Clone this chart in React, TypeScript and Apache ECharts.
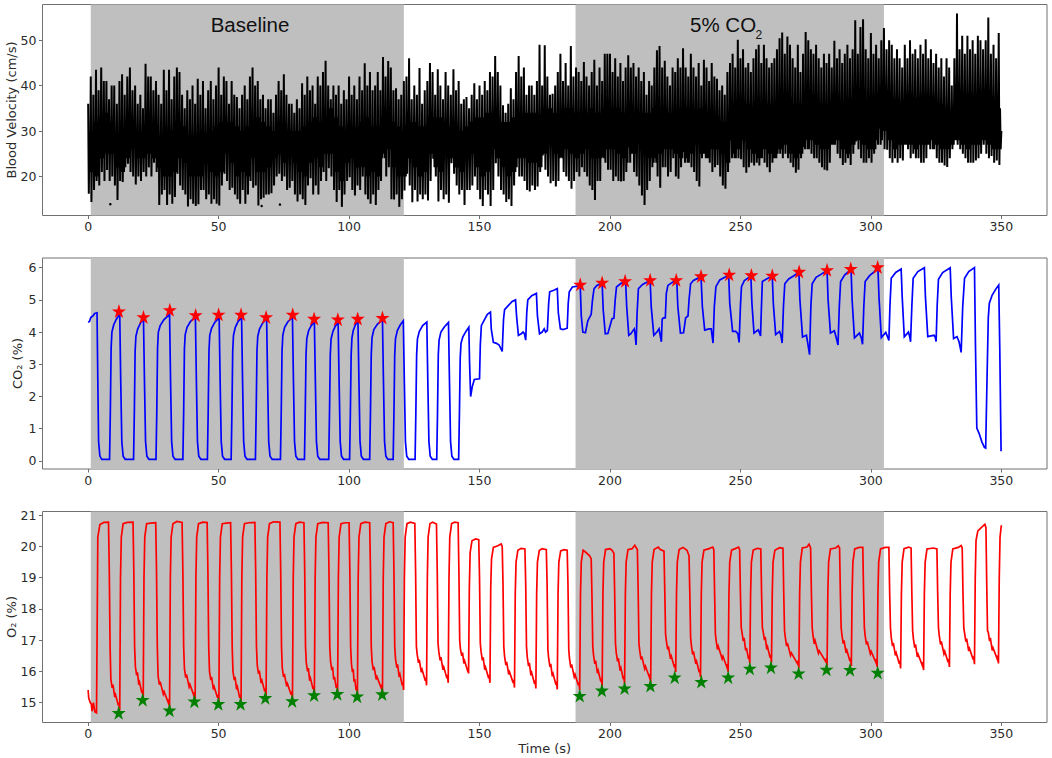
import React, { useEffect, useRef } from "react";
import * as echarts from "echarts";

const xTicks = [0, 50, 100, 150, 200, 250, 300, 350];
const velocityTicks = [20, 30, 40, 50];
const co2Ticks = [0, 1, 2, 3, 4, 5, 6];
const o2Ticks = [15, 16, 17, 18, 19, 20, 21];
const shadedBands = [[1, 121], [186.8, 305]];

// one systolic peak per second of recording
const velocityPeaks = [
  36,42,38,43.5,39,44,41,41,37,40,
  40,36,41,42.5,38,42,44,39,40,36,
  38,35,44.8,42,42,39,41,38,36,43.5,
  39,43.5,37,42,44,43,38,35,39,37,
  40,36,41.5,38,41,35,39,41,37,40,
  44,38,42,41,36,41,38,37.5,35,38,
  40,37,42,44,40,41,37,38,35,37,
  37,34,38,41,39,42.5,38,36,36,34,
  37,35,40.5,38,42,39,40,36,42,40,
  43,45.5,40,37,40,38,40,36,39,37,
  42,38,40,37,42,39,44.9,40,43,39,
  40,43,39,46.3,42,45.4,44,39,39.4,37,
  38,41,42,46,37,40,38,43.9,36,39,
  41,45,43,38,43.6,40,37,43,40,38,
  43.6,39,41,36,37,37.5,35,38,40.5,37,
  40,38,41,39,43,42,46.5,43,40,35.7,
  34,36,39.4,37,43,46.5,42,44,38,40,
  40,38,41,49,40,48.9,42,38,38.2,40,
  43,47,41,45,40,48.7,42,44,43,41,
  45.2,42,40,43,45.7,40,44,41,47,47,
  47,43,46,42,45,41,44,46.7,44,45,
  42,44,41,43,38,41,40,44,47.8,48.7,
  44,45.5,42,40,44,43,46,44,48.2,44,
  42,47,44,42,45,40,45.7,44,41,45,
  42,41.5,39,40,38,43,45,47,44,50.1,
  46,48,44,45,43,46,48,49,45,49,
  46,44,45,46,48,50.4,51.7,47,50.8,49,
  46,44,49,43,47,51.8,50,48,47,49,
  46,44,47,45,47,44,49.9,46,48,45,
  47,49,46,48,54.4,47,52.9,54.6,48,46,
  51.6,47,49,46,50,52.7,48,50,49,46,
  48,46,44,49,46,50,47,48,46,49,
  47,50.2,46,48,45,47,44,46,42,46,
  44,40,46,55.9,48,51,47,51,48,50,
  47,51,50,48,50,55,47,49,46,51.6,
];
const velocityTroughs = [
  16.2,14.4,17,19,18,21,19,21.4,19,20,
  18,14.8,19,18.8,22,22.8,21,20,18.2,20,
  19,21,20,22,20,23,21,13.7,16,17,
  13.7,16,14,15.5,20.6,18,17,16,13.4,15,
  14,13.5,13.9,17,17,15,16,14,15,14,
  13.6,18,20.6,19,17,17.5,16,15,14,17,
  14,16,19,17.5,18,13.6,15,15.3,16,16,
  16.3,18,20,20.6,19,20,17,17.5,19,16,
  14.5,16,15,13.7,18,19.6,16,18,16,19,
  21,19,21.8,20,17,14.4,17,13.3,16,19,
  19.8,17,15.8,18,17,20,16,15,14,16,
  13.7,17,19,25,20,22,15,14.9,16,13.3,
  15,16.9,20.6,18,14.3,17,14.5,16,15,16,
  14.7,19,23.9,20,14.5,17,15,16,14.2,22.9,
  20.6,18,16,17,13.7,17,17,18,20,17,
  15,13.5,17,16,13.5,17,22.9,20,17,16,
  14.4,15,13.5,18,22,20,20,19,17,16.7,
  18,17,17.8,21,24.6,21.5,20,18.5,19,17.8,
  19,24.2,21,20,19,17.3,19,21,20,22,
  21,20,18,17,14.8,19,19,24.3,23,21.5,
  21.5,19,20,19,18.9,19,21,26.4,25,21,
  20,18,15.8,13.7,17,19,22,24,20,17.5,
  22,22,20,21,24,20,19.5,22,25.4,24,
  23,22,21,19,17.8,24,25,24,23,21,
  22,22.5,20,18,17.3,21,28,25,24,24,
  23.8,22,20.8,22,23,22.4,23,22.4,24,23,
  22,20.9,23,24,25,25,24,25,24,23,
  22,20.8,21.5,24,26.5,28,26,25,24,24,
  23,22,21.5,21.3,23,27,27,25,24,22.5,
  23,24,22.5,25,27.7,26,24,23,23,24,
  23,25,28,30.5,28,26,25.9,24,23,24,
  23,24,23.5,27,26,24,25,24,24,23,
  23,24,27,28,26,24,23,23,22.4,22.1,
  24,26,28,27,26,25,24,23,23,23,
  23.5,24,25,27,25,24,24.5,23,23.5,22.5,
];
// upper and lower edge of the solid central band, one reading every two seconds
const velocityBandTop = [
  29,32,33,34,32,29,30,32,32,30,
  30,31,30,29,28,28,30,32,31,29,
  29,28,29,30,31,32,32,32,31,30,
  31,32,33,32,31,30,29,29,30,30,
  30,31,32,33,32,33,35,33,31,30,
  30,31,32,33,31,31,33,34,32,31,
  30,31,32,31,31,32,33,33,32,31,
  30,30,31,32,33,33,34,34,33,32,
  32,33,34,34,34,34,33,34,35,34,
  34,35,35,34,34,34,35,34,34,35,
  35,35,34,35,34,34,34,34,35,35,
  35,34,34,35,35,35,34,35,34,34,
  33,32,32,34,35,35,36,35,35,36,
  36,35,36,36,37,36,36,36,37,36,
  36,35,35,36,36,37,37,36,37,37,
  37,37,37,37,36,36,36,36,36,36,
  36,37,36,36,35,34,34,35,36,37,
  36,36,36,35,35,
];
const velocityBandBottom = [
  21,20,24,25,25,22,21,24,26,24,
  24,25,24,22,20,20,21,24,23,20,
  20,20,23,21,20,21,25,23,20,21,
  20,24,21,21,22,24,25,23,25,23,
  21,20,23,24,22,25,25,21,19,23,
  24,22,22,20,21,20,24,26,22,20,
  20,24,22,20,21,25,22,21,26,24,
  22,21,24,25,22,20,21,26,24,22,
  20,21,24,24,23,23,22,25,27,25,
  24,26,25,24,25,26,24,24,24,26,
  26,25,24,23,25,28,26,24,23,25,
  26,26,25,24,23,25,27,25,24,26,
  26,25,23,24,26,28,26,25,24,26,
  25,24,26,27,25,24,25,26,28,27,
  26,26,27,28,26,25,27,28,27,26,
  26,27,30,28,26,27,27,27,26,27,
  27,26,27,26,26,27,28,27,26,27,
  27,28,27,26,26,
];
const velocityDots = [[8.5, 13.9], [66.5, 13.5], [73.5, 13.8]];

const co2Trace = [
  [0,4.3],[0.5,4.33],[1,4.45],[2,4.52],[2.5,4.58],[3.4,4.6],[3.7,2.5],[4,.6],[4.5,.15],[5.2,.05],
  [8.2,.05],[8.5,1.5],[8.8,3.5],[9.1,4.0],[9.8,4.23],[10.8,4.4],[12.1,4.55],[12.5,2.4],[12.9,.6],[13.4,.15],[14.2,.05],
  [17.4,.05],[17.7,1.5],[18,3.4],[18.3,3.87],[19,4.1],[20,4.27],[21.2,4.42],[21.6,2.4],[22,.6],[22.5,.15],[23.3,.05],
  [26,.05],[26.3,1.5],[26.6,3.5],[26.9,4.0],[27.6,4.2],[29,4.38],[31.2,4.55],[31.6,2.4],[32,.6],[32.5,.15],[33.3,.05],
  [36.3,.05],[36.6,1.5],[36.9,3.5],[37.2,3.92],[37.9,4.15],[39.2,4.33],[41.1,4.47],[41.5,2.4],[41.9,.6],[42.4,.15],[43.2,.05],
  [45.7,.05],[46,1.5],[46.3,3.4],[46.6,3.9],[47.3,4.12],[48.5,4.3],[50.2,4.45],[50.6,2.4],[51,.6],[51.5,.15],[52.3,.05],
  [54.8,.05],[55.1,1.5],[55.4,3.4],[55.7,3.9],[56.4,4.15],[57.4,4.32],[58.8,4.45],[59.2,2.4],[59.6,.6],[60.1,.15],[60.9,.05],
  [64.1,.05],[64.4,1.5],[64.7,3.4],[65,3.87],[65.7,4.1],[66.8,4.27],[68.4,4.42],[68.8,2.4],[69.2,.6],[69.7,.15],[70.5,.05],
  [73.7,.05],[74,1.5],[74.3,3.4],[74.6,3.9],[75.3,4.15],[76.6,4.33],[78.3,4.45],[78.7,2.4],[79.1,.6],[79.6,.15],[80.4,.05],
  [82.9,.05],[83.2,1.5],[83.5,3.3],[83.8,3.8],[84.5,4.05],[85.5,4.2],[86.7,4.33],[87.1,2.4],[87.5,.6],[88,.15],[88.8,.05],
  [92.2,.05],[92.5,1.5],[92.8,3.3],[93.1,3.78],[93.8,4.02],[94.7,4.18],[95.8,4.3],[96.2,2.4],[96.6,.6],[97.1,.15],[97.9,.05],
  [100.2,.05],[100.5,1.5],[100.8,3.3],[101.1,3.82],[101.6,4.05],[102.4,4.22],[103.4,4.36],[103.8,2.4],[104.2,.6],[104.7,.15],[105.5,.05],
  [107.9,.05],[108.2,1.5],[108.5,3.3],[108.8,3.83],[109.5,4.08],[110.9,4.25],[112.8,4.38],[113.2,2.4],[113.6,.6],[114.1,.15],[114.9,.05],
  [116.9,.05],[117.2,1.5],[117.5,3.3],[117.8,3.8],[118.5,4.05],[119.6,4.22],[120.8,4.35],[121.2,2.4],[121.6,.6],[122.1,.15],[122.9,.05],
  [125.3,.05],[125.6,1.5],[125.9,3.3],[126.2,3.78],[126.9,4.02],[128.2,4.2],[129.8,4.31],[130.2,2.4],[130.6,.6],[131.1,.15],[131.9,.05],
  [133.6,.05],[133.9,1.5],[134.2,3.3],[134.5,3.75],[135.2,4],[136.5,4.16],[138.1,4.3],[138.5,2.4],[138.9,.6],[139.4,.15],[140.2,.05],
  [142,.05],[142.3,1.5],[142.6,3.2],[142.9,3.65],[143.6,3.85],[144.8,4.02],[145.9,4.15],[146.2,3],[146.6,2.0],[147.2,2.3],[148,2.53],[150,2.55],
  [150.3,3.6],[150.7,4.2],[152,4.4],[153,4.55],[154.2,4.62],[154.5,4.1],[155.3,3.68],[156.5,3.65],[157.5,3.6],[158.7,3.4],
  [159.2,4.4],[159.6,4.7],[161,4.82],[162.5,4.95],[163.8,5.0],[164.2,4.5],[164.9,3.9],[166,3.95],[166.7,4.0],[167.2,3.95],[167.7,3.75],
  [168.1,4.6],[168.5,5.0],[170,5.13],[171.8,5.2],[172.2,4.5],[173,3.95],[174,4.0],[174.8,4.1],[175.3,4.0],[176,4.05],
  [176.5,4.9],[176.9,5.25],[178.5,5.3],[179.8,5.35],[180.2,4.6],[181,4.1],[182,4.08],[183.6,4.12],
  [184,4.9],[184.4,5.25],[185.6,5.4],[188.6,5.44],[189,4.5],[189.6,4.0],[190.6,3.98],[191.5,4.35],[192.8,4.55],
  [193.3,5.0],[193.9,5.35],[195,5.45],[197,5.52],[197.4,4.7],[198.2,3.95],[199.2,3.96],[200.8,4.42],[201.5,4.43],
  [202,5.0],[202.5,5.4],[204,5.5],[206,5.57],[206.4,4.8],[207.2,3.9],[208,3.95],[209.3,4.1],[209.6,3.95],[210,3.6],
  [210.4,4.6],[210.9,5.35],[212.5,5.48],[215.4,5.6],[215.8,4.8],[216.8,3.9],[218,4.0],[218.8,4.1],[219.7,3.7],
  [220,4.4],[220.5,4.44],[221.2,4.44],[221.6,5.2],[222.2,5.45],[224,5.55],[225.6,5.6],[226,4.8],[227,3.97],[228.2,3.98],[229,4.44],[229.9,4.5],
  [230.3,5.0],[230.9,5.5],[232,5.6],[234.9,5.72],[235.4,4.8],[236.3,4.06],[238,4.1],[238.8,4.1],[239.5,3.66],
  [240,4.8],[240.6,5.41],[242.1,5.62],[244,5.7],[245.5,5.77],[245.9,4.9],[247,4.02],[248.2,4.02],[249,3.95],[249.5,3.68],
  [250,4.8],[250.4,5.41],[251.5,5.6],[254,5.74],[254.4,4.9],[255.2,3.97],[256.8,4.07],[257.2,4.0],[257.7,3.88],
  [258.1,4.9],[258.4,5.57],[260,5.65],[262.2,5.74],[262.6,4.9],[263.5,3.92],[265,4.02],[265.5,3.9],[266,3.66],
  [266.5,4.8],[267,5.5],[268.5,5.65],[270.5,5.75],[272.4,5.86],[272.8,5.0],[273.8,3.85],[275.3,3.9],[275.9,3.6],[276.5,3.3],
  [277,4.8],[277.5,5.5],[279,5.7],[281,5.8],[283.2,5.91],[283.6,5],[284.5,3.97],[286,4.04],[286.8,3.8],[287.4,3.6],
  [287.9,4.8],[288.4,5.57],[290,5.78],[292.4,5.95],[292.8,5],[293.7,3.82],[295.6,3.97],[296.4,3.8],[296.8,3.62],
  [297.3,4.8],[297.8,5.57],[299.5,5.75],[301,5.85],[302.7,6.0],[303.1,5.1],[304,3.83],[305.7,3.99],[306.4,3.85],[306.9,3.74],
  [307.3,4.8],[307.8,5.67],[309.5,5.85],[311.6,5.96],[312,5.1],[312.8,3.85],[314.4,4.0],[314.9,3.85],[315.2,3.7],
  [315.7,4.8],[316.2,5.67],[318,5.88],[320.5,6.0],[320.9,5.1],[321.8,3.86],[323,3.88],[324.2,3.9],[324.6,3.85],[325,3.71],
  [325.4,4.8],[325.9,5.64],[327.5,5.85],[330.4,6.0],[330.8,5.1],[331.7,3.8],[333,3.86],[333.8,3.7],[334.6,3.37],
  [335.2,4.8],[335.9,5.67],[337.5,5.88],[339.7,6.0],[340.1,3.5],[340.6,1.02],[341.5,.85],[342.5,.6],[343.5,.42],[344,.4],
  [344.5,2.5],[345,4.45],[345.4,4.9],[346.5,5.15],[348,5.35],[349,5.46],[349.4,3.5],[349.9,.3],
];

const o2Trace = [
  [0,15.4],[0.2,15.15],[.8,15.0],[1.2,14.95],[1.5,14.72],[2,15.0],[2.6,14.7],[3.2,14.67],[3.5,18],[3.7,20.3],[4.5,20.7],[6,20.77],
  [7.8,20.78],[8.1,19.2],[8.4,16.8],[8.7,15.75],[9.2,15.47],[9.5,15.57],[10.2,15.17],[10.5,15.25],[11.6,14.9],[11.8,15],[12.1,14.75],[12.4,19],[12.7,20.3],[13.4,20.73],[15,20.77],
  [17.2,20.78],[17.5,19.2],[17.8,16.8],[18.1,16.15],[18.6,15.87],[18.9,15.97],[19.4,15.57],[19.7,15.65],[20.6,15.3],[20.8,15.4],[21.1,15.15],[21.4,19],[21.7,20.3],[22.4,20.73],[24,20.75],
  [25.9,20.76],[26.2,19.2],[26.5,16.8],[26.8,15.85],[27.3,15.57],[27.6,15.67],[28.8,15.27],[29.1,15.35],[30.7,15],[30.9,15.1],[31.2,14.85],[31.5,19],[31.8,20.3],[32.5,20.73],[34,20.8],
  [36,20.77],[36.3,19.2],[36.6,16.8],[36.9,16.08],[37.4,15.8],[37.7,15.9],[38.7,15.5],[39,15.58],[40.5,15.23],[40.7,15.33],[41,15.08],[41.3,19],[41.6,20.3],[42.3,20.73],[44,20.78],
  [45.6,20.77],[45.9,19.2],[46.2,16.8],[46.5,16],[47,15.72],[47.3,15.82],[48,15.42],[48.3,15.5],[49.6,15.15],[49.8,15.25],[50.1,15],[50.4,19],[50.7,20.3],[51.4,20.73],[53,20.75],
  [54.6,20.76],[54.9,19.2],[55.2,16.8],[55.5,16],[56,15.72],[56.3,15.82],[56.9,15.42],[57.2,15.5],[58.1,15.15],[58.3,15.25],[58.6,15],[58.9,19],[59.2,20.3],[59.9,20.73],[61.5,20.76],
  [63.9,20.77],[64.2,19.2],[64.5,16.8],[64.8,16.2],[65.3,15.92],[65.6,16.02],[66.3,15.62],[66.6,15.7],[67.7,15.35],[67.9,15.45],[68.2,15.2],[68.5,19],[68.8,20.3],[69.5,20.73],[71,20.79],
  [73.5,20.78],[73.8,19.2],[74.1,16.8],[74.4,16.1],[74.9,15.82],[75.2,15.92],[76.1,15.52],[76.4,15.6],[77.8,15.25],[78,15.35],[78.3,15.1],[78.6,19],[78.9,20.3],[79.6,20.73],[81,20.78],
  [82.7,20.76],[83,19.2],[83.3,16.8],[83.6,16.28],[84.1,16],[84.4,16.1],[84.9,15.7],[85.2,15.78],[86.2,15.43],[86.4,15.53],[86.7,15.28],[87,19],[87.3,20.3],[88,20.73],[90,20.77],
  [92,20.76],[92.3,19.2],[92.6,16.8],[92.9,16.32],[93.4,16.04],[93.7,16.14],[94.1,15.74],[94.4,15.82],[95.1,15.47],[95.3,15.57],[95.6,15.32],[95.9,19],[96.2,20.3],[96.9,20.73],[98.5,20.76],
  [100,20.76],[100.3,19.2],[100.6,16.8],[100.9,16.25],[101.3,15.97],[101.6,16.07],[101.9,15.67],[102.2,15.75],[102.7,15.4],[102.9,15.5],[103.2,15.25],[103.5,19],[103.8,20.3],[104.5,20.73],[106,20.78],
  [107.9,20.76],[108.2,19.2],[108.5,16.8],[108.8,16.32],[109.3,16.04],[109.6,16.14],[110.4,15.74],[110.7,15.82],[112.3,15.47],[112.5,15.57],[112.8,15.32],[113.1,19],[113.4,20.3],[114.1,20.73],[115.5,20.79],
  [116.9,20.76],[117.2,19.2],[117.5,16.8],[117.8,16.4],[118.3,16.12],[118.6,16.22],[119.2,15.82],[119.5,15.9],[120.4,15.55],[120.6,15.65],[120.9,15.4],[121.2,19],[121.5,20.3],[122.2,20.73],[123.5,20.78],
  [125.2,20.74],[125.5,19.2],[125.8,16.8],[126.1,16.55],[126.6,16.27],[126.9,16.37],[127.7,15.97],[128,16.05],[129.2,15.7],[129.4,15.8],[129.7,15.55],[130,19],[130.3,20.3],[131,20.73],[132,20.78],
  [133.5,20.72],[133.8,19.2],[134.1,16.9],[134.4,16.63],[134.9,16.35],[135.2,16.45],[136,16.05],[136.3,16.13],[137.5,15.78],[137.7,15.88],[138,15.63],[138.3,19],[138.6,20.3],[139.3,20.73],[140.5,20.78],
  [141.8,20.76],[142.1,19.2],[142.4,17],[142.7,16.7],[143.2,16.5],[143.5,16.6],[144,16.25],[144.3,16.33],[145.3,16.05],[145.5,16.1],[145.8,15.93],[146.1,18.7],[146.4,19.8],[147.1,20.18],[148.5,20.24],
  [149.7,20.22],[150,19],[150.3,16.9],[150.6,16.63],[151.1,16.35],[151.4,16.45],[152,16.05],[152.3,16.13],[153.5,15.78],[153.7,15.88],[154,15.63],[154.3,18.7],[154.6,19.6],[155.3,19.97],[157,20.02],[158.3,20.08],
  [158.7,20.0],[159,18.8],[159.3,16.8],[159.6,16.48],[160.1,16.2],[160.4,16.3],[161.2,15.9],[161.5,15.98],[162.9,15.63],[163.1,15.73],[163.4,15.48],[163.7,18.5],[164,19.5],[164.7,19.88],[166,19.94],
  [167.4,19.92],[167.7,18.8],[168,16.8],[168.3,16.45],[168.8,16.17],[169.1,16.27],[169.7,15.87],[170,15.95],[171.1,15.6],[171.3,15.7],[171.6,15.45],[171.9,18.5],[172.2,19.5],[172.9,19.87],[174,19.93],
  [175.6,19.9],[175.9,18.8],[176.2,16.7],[176.5,16.42],[177,16.14],[177.3,16.24],[177.9,15.84],[178.2,15.92],[179.3,15.57],[179.5,15.67],[179.8,15.42],[180.1,18.5],[180.4,19.5],[181.1,19.86],[182.5,19.9],
  [183.6,19.88],[183.9,18.8],[184.2,16.7],[184.5,16.4],[185,16.12],[185.3,16.22],[186.3,15.82],[186.6,15.9],[187.9,15.55],[188.1,15.65],[188.4,15.4],[188.7,18.5],[189,19.5],[189.7,19.88],[190.5,19.83],[192.2,19.7],
  [192.8,19.6],[193.1,18.4],[193.4,16.8],[193.7,16.52],[194.2,16.24],[194.5,16.34],[195.2,15.94],[195.5,16.02],[196.5,15.67],[196.7,15.77],[197,15.52],[197.3,18.5],[197.6,19.5],[198.3,19.9],[200,19.93],[200.8,19.88],
  [201.5,19.78],[201.8,18.5],[202.1,16.9],[202.4,16.6],[202.9,16.32],[203.2,16.42],[203.9,16.02],[204.2,16.1],[205.1,15.75],[205.3,15.85],[205.6,15.6],[205.9,18.5],[206.2,19.5],[206.9,19.9],[208.5,19.93],[209.5,20.04],
  [210.5,19.9],[210.8,18.6],[211.1,16.9],[211.4,16.66],[211.9,16.38],[212.2,16.48],[213.3,16.08],[213.6,16.16],[215.1,15.81],[215.3,15.91],[215.6,15.66],[215.9,18.5],[216.2,19.5],[216.9,19.9],[218.5,19.98],[219.3,19.9],
  [220.7,19.85],[221,18.6],[221.3,17.2],[221.6,16.98],[222.1,16.7],[222.4,16.8],[223.2,16.4],[223.5,16.48],[224.7,16.13],[224.9,16.23],[225.2,15.98],[225.5,18.5],[225.8,19.5],[226.5,19.9],[228,19.97],[229.5,19.88],
  [230.3,19.7],[230.6,18.5],[230.9,17.1],[231.2,16.82],[231.7,16.54],[232,16.64],[232.9,16.24],[233.2,16.32],[234.2,15.97],[234.4,16.07],[234.7,15.82],[235,18.5],[235.3,19.5],[236,19.88],[238,19.93],[239.4,19.98],
  [239.8,19.9],[240.1,18.5],[240.4,17.2],[240.7,16.98],[241.2,16.7],[241.5,16.8],[243,16.4],[243.3,16.48],[244.8,16.13],[245,16.23],[245.3,15.98],[245.6,18.5],[245.9,19.5],[246.6,19.88],[248,19.93],[249.3,19.98],
  [249.7,19.9],[250,18.5],[250.3,17.4],[250.6,17.25],[251.1,16.97],[251.4,17.07],[252,16.67],[252.3,16.75],[253.1,16.4],[253.3,16.5],[253.6,16.25],[253.9,18.5],[254.2,19.5],[254.9,19.88],[256.5,19.94],
  [257.8,19.92],[258.1,18.5],[258.4,17.4],[258.7,17.28],[259.2,17],[259.5,17.1],[260.1,16.7],[260.4,16.78],[261.4,16.43],[261.6,16.53],[261.9,16.28],[262.2,18.5],[262.5,19.5],[263.2,19.88],[265,19.96],
  [266.3,19.94],[266.6,18.5],[266.9,17.3],[267.2,17.09],[267.7,16.81],[268,16.91],[269.2,16.51],[269.5,16.59],[271.9,16.24],[272.1,16.34],[272.4,16.09],[272.7,18.5],[273,19.5],[273.7,19.95],[275.5,19.98],[276.3,20.07],
  [276.9,19.95],[277.2,18.5],[277.5,17.4],[277.8,17.16],[278.3,16.88],[278.6,16.98],[279.9,16.58],[280.2,16.66],[282.7,16.31],[282.9,16.41],[283.2,16.16],[283.5,18.5],[283.8,19.5],[284.5,19.92],[286.5,19.95],[287.5,20.02],
  [288,19.95],[288.3,18.5],[288.6,17.4],[288.9,17.17],[289.4,16.89],[289.7,16.99],[290.5,16.59],[290.8,16.67],[292,16.32],[292.2,16.42],[292.5,16.17],[292.8,18.5],[293.1,19.5],[293.8,19.92],[295.5,19.97],
  [296.9,19.97],[297.2,18.5],[297.5,17.4],[297.8,17.14],[298.3,16.86],[298.6,16.96],[299.8,16.56],[300.1,16.64],[301.9,16.29],[302.1,16.39],[302.4,16.14],[302.7,18.5],[303,19.5],[303.7,19.92],[305.5,19.97],
  [306.9,19.97],[307.2,18.5],[307.5,17.4],[307.8,17.09],[308.3,16.81],[308.6,16.91],[309.4,16.51],[309.7,16.59],[310.9,16.24],[311.1,16.34],[311.4,16.09],[311.7,18.5],[312,19.5],[312.7,19.93],[314.5,19.98],
  [315.4,19.95],[315.7,18.5],[316,17.3],[316.3,17.04],[316.8,16.76],[317.1,16.86],[317.8,16.46],[318.1,16.54],[319.7,16.19],[319.9,16.29],[320.2,16.04],[320.5,18.5],[320.8,19.5],[321.5,19.92],[324,19.95],
  [325.3,19.92],[325.6,18.5],[325.9,17.4],[326.2,17.14],[326.7,16.86],[327,16.96],[328,16.56],[328.3,16.64],[329.6,16.29],[329.8,16.39],[330.1,16.14],[330.4,18.5],[330.7,19.5],[331.4,19.92],[333.5,19.97],[334.6,20.03],
  [335,19.95],[335.3,18.5],[335.6,17.4],[335.9,17.23],[336.4,16.95],[336.7,17.05],[337.5,16.65],[337.8,16.73],[339.2,16.38],[339.4,16.48],[339.7,16.23],[340,19],[340.3,20.2],[341,20.5],[342.5,20.62],[343.7,20.71],
  [344.1,20.6],[344.4,18.8],[344.7,17.3],[345,17.25],[345.5,16.97],[345.8,17.07],[346.5,16.67],[346.8,16.75],[348.4,16.4],[348.6,16.5],[348.9,16.25],[349.2,19],[349.5,20.3],[350,20.68],
];

const co2Stars = [
  [11.8,4.63],[21.2,4.45],[31.3,4.67],[41.2,4.51],[50,4.53],[58.6,4.53],[68.2,4.45],[78.4,4.53],[86.6,4.4],[95.7,4.38],[103.3,4.4],[112.8,4.43],
  [188.6,5.46],[197,5.52],[205.8,5.57],[215.4,5.6],[225.4,5.6],[234.9,5.72],[245.7,5.77],[254.2,5.75],[262.2,5.74],[272.5,5.86],[283.2,5.91],[292.3,5.95],[302.6,6.0],
];
const o2Stars = [
  [11.7,14.65],[20.9,15.07],[31.2,14.73],[40.7,15.02],[49.9,14.94],[58.4,14.94],[67.9,15.13],[78.2,15.03],[86.6,15.22],[95.5,15.26],[103.1,15.18],[112.7,15.25],
  [188.4,15.2],[196.9,15.37],[205.6,15.44],[215.5,15.52],[224.8,15.79],[235,15.65],[245.3,15.79],[253.6,16.07],[261.7,16.11],[272.3,15.92],[283,16.04],[292,16.03],[302.6,15.94],
];

const STAR = "path://M0,-10L2.245,-3.09L9.511,-3.09L3.633,1.18L5.878,8.09L0,3.82L-5.878,8.09L-3.633,1.18L-9.511,-3.09L-2.245,-3.09Z";
const TEXT = "#2b2b2b";
const SPINE = "#707070";
const FONT = "DejaVu Sans";

const velocityTrace: number[][] = [];
velocityPeaks.forEach((p, i) => {
  const j = Math.floor(i / 2);
  velocityTrace.push([i, p]);
  velocityTrace.push([i + 0.25, velocityTroughs[i]]);
  velocityTrace.push([i + 0.5, velocityBandTop[j]]);
  velocityTrace.push([i + 0.75, velocityBandBottom[j]]);
});
velocityTrace.push([350, 30]);

const grids = [
  { left: 42.5, width: 1004.5, top: 4.5, height: 211 },
  { left: 42.5, width: 1004.5, top: 258, height: 211 },
  { left: 42.5, width: 1004.5, top: 511.5, height: 211 },
];

function xAxis(gridIndex: number, name?: string) {
  return {
    type: "value", gridIndex, min: -17.5, max: 367.5,
    name, nameLocation: "middle", nameGap: 19, nameMoveOverlap: false,
    nameTextStyle: { color: TEXT, fontFamily: FONT, fontSize: 13 },
    splitLine: { show: false },
    axisLine: { show: false, onZero: false },
    axisTick: { show: true, length: 3.5, customValues: xTicks, lineStyle: { color: SPINE } },
    axisLabel: { customValues: xTicks, color: TEXT, fontFamily: FONT, fontSize: 12.5, margin: 4.5 },
  };
}
function yAxis(gridIndex: number, name: string, min: number, max: number, ticks: number[], nameGap: number) {
  return {
    type: "value", gridIndex, min, max, name, nameLocation: "middle", nameGap, nameMoveOverlap: false,
    nameTextStyle: { color: TEXT, fontFamily: FONT, fontSize: 13 },
    splitLine: { show: false },
    axisLine: { show: false, onZero: false },
    axisTick: { show: true, length: 3.5, customValues: ticks, lineStyle: { color: SPINE } },
    axisLabel: { customValues: ticks, color: TEXT, fontFamily: FONT, fontSize: 12.5, margin: 6 },
  };
}
function bands(i: number) {
  return {
    type: "line", xAxisIndex: i, yAxisIndex: i, data: [], z: 1, silent: true,
    markArea: {
      silent: true, itemStyle: { color: "#bfbfbf" },
      data: shadedBands.map(([a, b]) => [{ xAxis: a }, { xAxis: b }]),
    },
  };
}
function trace(i: number, data: number[][], color: string, width: number) {
  return {
    type: "line", xAxisIndex: i, yAxisIndex: i, data, z: 3, silent: true,
    showSymbol: false, symbol: "none",
    lineStyle: { color, width, join: "miter" },
  };
}
function stars(i: number, data: number[][], color: string) {
  return {
    type: "scatter", xAxisIndex: i, yAxisIndex: i, data, z: 4, silent: true,
    symbol: STAR, symbolSize: 14, symbolOffset: [0, -0.7], itemStyle: { color, opacity: 1 },
  };
}

export default function App() {
  const ref = useRef<HTMLDivElement>(null);
  useEffect(() => {
    const chart = echarts.init(ref.current!, undefined, { renderer: "svg" });
    chart.setOption({
      animation: false,
      backgroundColor: "#ffffff",
      grid: grids.map((g) => ({ ...g, outerBoundsMode: "none", containLabel: false, show: true, backgroundColor: "transparent", borderColor: SPINE, borderWidth: 1 })),
      xAxis: [xAxis(0), xAxis(1), xAxis(2, "Time (s)")],
      yAxis: [
        yAxis(0, "Blood Velocity (cm/s)", 11.4, 57.86, velocityTicks, 25),
        yAxis(1, "CO₂ (%)", -0.25, 6.3, co2Ticks, 19),
        yAxis(2, "O₂ (%)", 14.36, 21.12, o2Ticks, 25),
      ],
      series: [
        bands(0), bands(1), bands(2),
        trace(0, velocityTrace, "#000000", 2),
        { type: "scatter", xAxisIndex: 0, yAxisIndex: 0, data: velocityDots, z: 3, silent: true, symbolSize: 2.5, itemStyle: { color: "#000000", opacity: 1 } },
        trace(1, co2Trace, "#0000ff", 1.7),
        trace(2, o2Trace, "#ff0000", 1.7),
        stars(1, co2Stars, "#ff0000"),
        stars(2, o2Stars, "#008000"),
      ],
      graphic: [
        { type: "text", z: 10, silent: true, style: { text: "Baseline", x: 250, y: 24, align: "center", verticalAlign: "middle", fontFamily: "Liberation Sans", fontSize: 20.5, fill: "#111111" } },
        { type: "text", z: 10, silent: true, style: { text: "5% CO", x: 690, y: 24, align: "left", verticalAlign: "middle", fontFamily: "Liberation Sans", fontSize: 20.5, fill: "#111111" } },
        { type: "text", z: 10, silent: true, style: { text: "2", x: 755.5, y: 35, align: "left", verticalAlign: "middle", fontFamily: "Liberation Sans", fontSize: 12, fill: "#111111" } },
      ],
    });
    return () => chart.dispose();
  }, []);
  return <div ref={ref} style={{ position: "absolute", left: 0, top: 0, width: 1052, height: 758 }} />;
}
